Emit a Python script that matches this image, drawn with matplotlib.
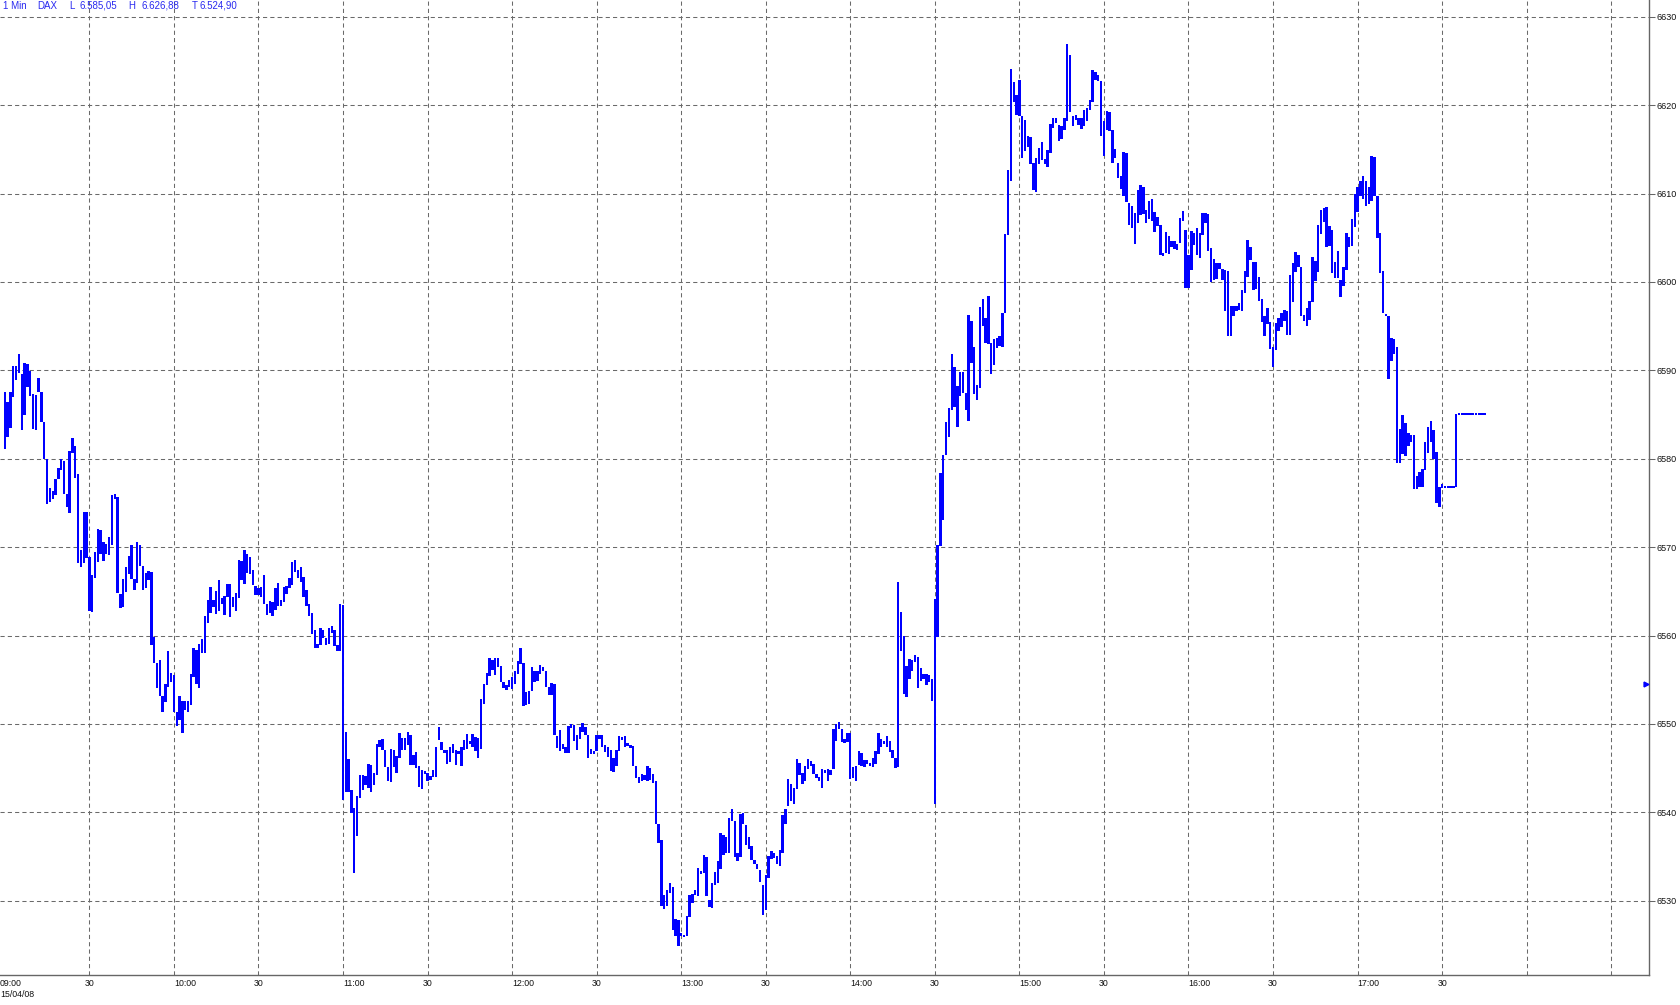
import numpy as np
import matplotlib
matplotlib.use("Agg")
from matplotlib import pyplot as plt

plt.rcParams['font.family'] = ['Liberation Sans', 'DejaVu Sans']

# DAX 1 minute bars, 15/04/08, one bar per minute from 09:00
bar_high = [
    6587.5, 6586.4, 6587.6, 6590.5, 6590.5, 6591.8, 6589.6, 6590.8, 6590.7, 6589.9,
    6587.3, 6587.2, 6589.1, 6587.6, 6584.2, 6580.0, 6576.7, 6576.4, 6577.7, 6578.9,
    6580.0, 6579.8, 6576.0, 6580.9, 6582.4, 6581.5, 6578.3, 6569.7, 6574.0, 6574.0,
    6568.9, 6566.8, 6569.4, 6572.1, 6571.9, 6570.6, 6570.4, 6571.2, 6575.9, 6576.0,
    6575.7, 6564.7, 6566.4, 6567.8, 6569.0, 6570.3, 6566.4, 6570.6, 6570.2, 6567.9,
    6567.1, 6567.3, 6567.2, 6559.8, 6556.9, 6557.2, 6553.2, 6554.5, 6558.2, 6555.8,
    6555.5, 6551.4, 6553.2, 6552.6, 6552.6, 6552.6, 6555.6, 6558.6, 6558.4, 6559.0,
    6559.6, 6562.2, 6564.0, 6565.5, 6564.0, 6565.0, 6566.3, 6564.3, 6564.5, 6565.8,
    6565.8, 6564.4, 6564.8, 6568.5, 6568.4, 6569.7, 6569.2, 6568.9, 6567.4, 6565.6,
    6565.4, 6565.5, 6566.8, 6563.6, 6563.9, 6563.8, 6565.4, 6565.9, 6564.0, 6565.5,
    6565.6, 6566.5, 6568.3, 6568.6, 6567.4, 6567.7, 6566.6, 6565.1, 6563.6, 6562.5,
    6560.6, 6559.1, 6560.8, 6560.6, 6559.7, 6560.8, 6561.1, 6560.6, 6558.9, 6563.6,
    6563.5, 6549.1, 6546.0, 6542.5, 6540.5, 6541.8, 6544.2, 6544.2, 6544.1, 6545.5,
    6545.4, 6544.4, 6547.7, 6548.2, 6548.3, 6547.1, 6545.1, 6547.2, 6547.1, 6546.4,
    6549.0, 6548.4, 6548.4, 6549.1, 6548.8, 6546.5, 6546.8, 6545.2, 6544.8, 6544.7,
    6544.4, 6544.1, 6544.8, 6547.4, 6549.6, 6548.0, 6547.1, 6547.0, 6547.4, 6547.7,
    6547.1, 6546.9, 6547.4, 6548.2, 6548.9, 6548.1, 6548.9, 6548.5, 6548.4, 6552.8,
    6554.5, 6555.8, 6557.5, 6557.2, 6557.5, 6557.5, 6556.6, 6554.7, 6554.4, 6555.0,
    6555.3, 6556.0, 6557.1, 6558.6, 6556.9, 6553.6, 6553.7, 6556.4, 6556.0, 6556.0,
    6556.7, 6556.5, 6556.0, 6554.2, 6554.6, 6554.5, 6548.6, 6549.3, 6547.7, 6547.4,
    6549.8, 6550.0, 6549.9, 6548.8, 6549.6, 6550.1, 6549.7, 6548.7, 6547.2, 6546.9,
    6548.7, 6548.7, 6548.8, 6547.6, 6547.4, 6547.0, 6546.2, 6547.1, 6548.6, 6548.5,
    6548.6, 6547.9, 6547.6, 6547.5, 6545.2, 6544.0, 6544.3, 6544.2, 6545.2, 6545.0,
    6544.3, 6543.6, 6538.7, 6536.9, 6530.7, 6531.2, 6532.0, 6531.5, 6527.9, 6527.8,
    6526.3, 6526.2, 6528.3, 6530.7, 6530.8, 6531.2, 6533.7, 6533.4, 6535.2, 6535.0,
    6530.1, 6532.0, 6533.3, 6534.5, 6537.7, 6537.4, 6537.2, 6539.4, 6540.4, 6539.0,
    6535.4, 6539.8, 6539.9, 6538.6, 6537.2, 6536.2, 6534.6, 6534.2, 6533.5, 6531.8,
    6532.9, 6535.1, 6535.6, 6535.4, 6535.1, 6535.7, 6539.7, 6540.4, 6543.8, 6543.2,
    6542.8, 6546.0, 6545.6, 6544.5, 6545.2, 6546.0, 6545.8, 6545.5, 6544.3, 6544.0,
    6544.9, 6544.8, 6544.9, 6544.8, 6549.4, 6550.0, 6550.2, 6549.4, 6548.3, 6549.0,
    6549.0, 6545.1, 6545.3, 6546.9, 6546.7, 6545.9, 6545.9, 6545.6, 6546.2, 6546.9,
    6549.0, 6548.3, 6548.1, 6548.6, 6548.1, 6547.1, 6546.1, 6566.1, 6562.7, 6560.0,
    6556.6, 6557.3, 6557.2, 6557.8, 6557.6, 6556.3, 6555.6, 6555.7, 6555.5, 6555.1,
    6564.1, 6570.2, 6578.4, 6580.4, 6584.2, 6585.7, 6591.8, 6590.4, 6588.2, 6589.8,
    6589.8, 6587.4, 6596.3, 6595.6, 6592.7, 6588.4, 6597.2, 6598.1, 6595.9, 6598.4,
    6593.1, 6593.6, 6593.7, 6593.9, 6596.5, 6605.4, 6612.7, 6624.1, 6622.6, 6621.2,
    6622.9, 6618.8, 6618.3, 6616.5, 6616.4, 6613.5, 6614.0, 6615.2, 6615.8, 6613.9,
    6614.9, 6617.9, 6618.6, 6618.6, 6617.8, 6617.7, 6618.5, 6626.88, 6625.7, 6618.8,
    6618.9, 6618.6, 6618.5, 6619.4, 6619.7, 6620.6, 6624.0, 6623.7, 6623.4, 6622.7,
    6618.2, 6619.3, 6619.2, 6617.2, 6615.1, 6613.5, 6612.0, 6614.7, 6614.6, 6608.9,
    6608.6, 6607.8, 6610.4, 6611.0, 6610.8, 6608.1, 6609.2, 6609.4, 6607.9, 6607.3,
    6606.5, 6603.3, 6605.7, 6605.2, 6604.6, 6604.6, 6604.3, 6607.2, 6608.0, 6605.9,
    6603.1, 6605.8, 6605.5, 6606.1, 6605.5, 6607.8, 6607.8, 6607.7, 6603.8, 6602.6,
    6602.2, 6602.1, 6601.5, 6601.4, 6601.2, 6597.3, 6597.3, 6597.3, 6597.6, 6599.1,
    6601.2, 6604.8, 6604.0, 6602.3, 6602.3, 6600.6, 6598.1, 6596.1, 6597.1, 6595.5,
    6592.6, 6595.4, 6595.9, 6596.5, 6596.8, 6596.7, 6600.8, 6602.1, 6603.4, 6603.0,
    6601.7, 6596.3, 6597.1, 6597.9, 6602.8, 6602.4, 6606.4, 6608.1, 6608.4, 6608.5,
    6606.3, 6605.9, 6602.3, 6603.5, 6600.2, 6601.7, 6605.5, 6605.1, 6607.1, 6610.0,
    6610.7, 6611.4, 6612.0, 6611.4, 6610.8, 6614.2, 6614.1, 6609.7, 6605.5, 6601.2,
    6596.5, 6596.2, 6593.7, 6593.5, 6592.7, 6583.4, 6584.9, 6584.1, 6582.9, 6582.7,
    6582.7, 6578.1, 6578.5, 6578.8, 6581.9, 6583.6, 6584.3, 6583.2, 6580.8, 6576.8,
    6577.2, 6576.8, 6576.8, 6576.8, 6576.8, 6585.05, 6585.05, 6585.05, 6585.05, 6585.05,
    6585.05, 6585.05, 6585.05, 6585.05, 6585.05, 6585.05,
]
bar_low = [
    6581.1, 6582.5, 6583.5, 6587.0, 6588.9, 6589.7, 6583.2, 6584.9, 6588.1, 6587.1,
    6583.4, 6583.2, 6587.6, 6584.2, 6580.0, 6574.9, 6575.1, 6575.5, 6575.9, 6577.7,
    6578.7, 6576.0, 6574.6, 6573.9, 6580.6, 6577.8, 6568.2, 6567.8, 6568.2, 6568.8,
    6562.8, 6562.7, 6566.5, 6568.3, 6569.2, 6568.4, 6569.2, 6569.1, 6570.3, 6575.4,
    6564.8, 6563.1, 6563.2, 6564.9, 6567.0, 6566.4, 6565.1, 6566.0, 6567.9, 6565.1,
    6565.4, 6566.3, 6558.9, 6556.9, 6554.1, 6553.2, 6551.3, 6552.5, 6554.2, 6554.8,
    6551.4, 6549.8, 6550.4, 6549.0, 6551.6, 6551.4, 6552.1, 6555.3, 6554.5, 6554.1,
    6558.0, 6558.0, 6561.4, 6562.6, 6563.2, 6562.4, 6562.8, 6563.6, 6562.3, 6564.4,
    6562.1, 6563.2, 6562.8, 6564.3, 6566.3, 6565.8, 6567.1, 6567.0, 6565.7, 6564.6,
    6564.6, 6564.4, 6563.6, 6562.3, 6562.6, 6562.2, 6562.9, 6563.4, 6563.4, 6563.8,
    6564.7, 6565.4, 6565.7, 6567.2, 6566.5, 6566.1, 6564.4, 6563.3, 6562.2, 6560.2,
    6558.6, 6558.6, 6558.9, 6559.7, 6558.9, 6559.1, 6560.3, 6558.8, 6558.3, 6558.2,
    6541.4, 6542.3, 6542.3, 6539.9, 6533.1, 6537.3, 6541.6, 6542.5, 6543.1, 6542.8,
    6542.3, 6543.1, 6544.2, 6547.4, 6547.1, 6545.1, 6543.5, 6543.4, 6545.1, 6544.5,
    6546.1, 6547.1, 6547.1, 6547.6, 6545.4, 6545.4, 6545.0, 6542.9, 6542.6, 6544.3,
    6543.6, 6543.7, 6544.0, 6544.0, 6548.2, 6547.1, 6546.7, 6545.5, 6545.7, 6546.7,
    6545.4, 6546.6, 6545.2, 6547.1, 6547.2, 6547.7, 6547.4, 6546.9, 6546.2, 6547.2,
    6552.3, 6554.4, 6555.4, 6556.1, 6555.5, 6556.5, 6554.7, 6554.1, 6553.8, 6554.2,
    6554.0, 6554.5, 6555.7, 6556.8, 6552.0, 6552.1, 6552.3, 6553.7, 6554.7, 6554.9,
    6555.7, 6556.0, 6554.2, 6553.3, 6553.3, 6548.7, 6547.3, 6546.9, 6547.2, 6546.7,
    6546.7, 6549.5, 6548.1, 6547.1, 6548.3, 6549.1, 6548.7, 6546.2, 6546.6, 6546.6,
    6546.9, 6548.3, 6547.4, 6546.8, 6546.3, 6544.7, 6544.6, 6545.2, 6546.9, 6548.2,
    6547.4, 6547.5, 6547.3, 6545.2, 6543.9, 6543.3, 6543.5, 6543.7, 6543.5, 6543.7,
    6543.3, 6538.7, 6536.5, 6529.4, 6529.1, 6529.4, 6530.9, 6526.7, 6526.0, 6524.9,
    6526.0, 6526.0, 6526.0, 6528.2, 6529.7, 6530.7, 6530.5, 6533.0, 6533.1, 6530.5,
    6529.3, 6529.2, 6531.8, 6532.0, 6533.6, 6535.2, 6535.4, 6535.4, 6539.0, 6535.0,
    6534.5, 6535.0, 6538.7, 6536.3, 6535.9, 6534.6, 6534.2, 6533.6, 6532.1, 6528.4,
    6529.0, 6532.6, 6534.7, 6534.8, 6534.2, 6533.9, 6535.4, 6538.7, 6540.7, 6541.3,
    6541.0, 6542.6, 6544.2, 6543.2, 6543.5, 6544.9, 6545.2, 6544.3, 6543.9, 6543.6,
    6542.7, 6544.5, 6543.5, 6544.2, 6544.9, 6548.1, 6549.4, 6548.0, 6547.9, 6548.0,
    6543.8, 6543.9, 6543.5, 6545.4, 6545.2, 6545.1, 6545.5, 6545.2, 6545.1, 6545.5,
    6546.6, 6547.4, 6547.7, 6547.4, 6546.8, 6546.1, 6545.0, 6545.1, 6558.2, 6553.4,
    6553.1, 6555.1, 6556.0, 6557.0, 6554.1, 6554.9, 6555.1, 6554.4, 6554.7, 6552.6,
    6541.0, 6559.8, 6570.1, 6573.1, 6580.4, 6582.5, 6585.5, 6585.9, 6583.6, 6587.1,
    6587.4, 6585.5, 6584.3, 6590.8, 6587.3, 6586.6, 6588.0, 6595.0, 6593.1, 6593.0,
    6589.6, 6590.6, 6592.5, 6592.8, 6592.7, 6596.5, 6605.3, 6611.4, 6620.4, 6618.9,
    6618.8, 6614.0, 6614.8, 6615.3, 6613.3, 6610.4, 6610.2, 6613.3, 6613.8, 6613.4,
    6613.0, 6614.6, 6617.4, 6618.0, 6616.0, 6616.2, 6617.2, 6618.2, 6619.2, 6617.7,
    6618.3, 6617.8, 6617.3, 6617.7, 6618.2, 6619.4, 6620.4, 6622.9, 6622.7, 6616.5,
    6614.2, 6617.2, 6617.1, 6613.5, 6614.0, 6611.8, 6610.5, 6609.7, 6609.0, 6606.5,
    6606.1, 6604.3, 6606.7, 6607.6, 6607.7, 6606.7, 6607.1, 6606.9, 6605.6, 6606.3,
    6603.1, 6602.9, 6603.3, 6603.2, 6604.0, 6603.7, 6603.6, 6604.4, 6606.9, 6599.3,
    6599.3, 6601.3, 6604.2, 6603.1, 6602.7, 6605.3, 6606.7, 6603.5, 6600.0, 6600.2,
    6600.3, 6601.5, 6600.2, 6596.7, 6593.9, 6593.9, 6596.1, 6596.7, 6596.8, 6596.7,
    6598.8, 6600.6, 6602.5, 6599.1, 6599.2, 6597.8, 6595.5, 6593.9, 6595.2, 6592.4,
    6590.4, 6592.3, 6594.5, 6594.9, 6595.6, 6594.0, 6594.0, 6597.7, 6601.1, 6601.7,
    6596.2, 6595.6, 6595.0, 6595.7, 6597.7, 6600.1, 6601.1, 6605.4, 6606.8, 6604.0,
    6604.1, 6601.0, 6600.4, 6600.4, 6598.3, 6599.6, 6601.3, 6604.0, 6604.1, 6606.2,
    6607.9, 6609.7, 6609.4, 6608.6, 6608.8, 6609.2, 6609.7, 6605.0, 6601.0, 6596.5,
    6596.3, 6589.0, 6591.1, 6591.8, 6579.5, 6579.5, 6580.5, 6580.3, 6581.4, 6581.9,
    6576.6, 6576.6, 6576.8, 6576.8, 6578.7, 6580.7, 6581.9, 6580.0, 6575.0, 6574.5,
    6576.7, 6576.8, 6576.8, 6576.8, 6576.8, 6576.8, 6585.05, 6585.05, 6585.05, 6585.05,
    6585.05, 6585.05, 6585.05, 6585.05, 6585.05, 6585.05,
]

price_levels = [6530, 6540, 6550, 6560, 6570, 6580, 6590, 6600, 6610, 6620, 6630]
time_ticks = [0, 30, 60, 90, 120, 150, 180, 210, 240, 270, 300, 330,
              360, 390, 420, 450, 480, 510]
time_labels = ["09:00\n15/04/08", "30", "10:00", "30", "11:00", "30", "12:00", "30",
               "13:00", "30", "14:00", "30", "15:00", "30", "16:00", "30", "17:00", "30"]
grid_times = [30 * i for i in range(1, 20)]
header = [("1 Min", 3), ("DAX", 37), ("L", 69), ("6.585,05", 80),
          ("H", 128), ("6.626,88", 141), ("T", 192), ("6.524,90", 200)]
prev_close = 6554.5

high = np.array(bar_high)
low = np.array(bar_low)
minutes = np.arange(len(high))
flat = high - low < 0.2
height = np.where(flat, 0.22, high - low)
bottom = np.where(flat, low - 0.11, low)

W, H = 1680, 1005
fig = plt.figure(figsize=(W / 100, H / 100), dpi=100)
ax = fig.add_axes([0, 30 / H, 1649 / W, 975 / H])

grid_col = "#6a6a6a"
for t in grid_times:
    ax.axvline(t, color=grid_col, lw=0.75, ls=(0, (4, 3)), zorder=0)
for p in price_levels:
    ax.axhline(p, color=grid_col, lw=0.75, ls=(0, (4, 3)), zorder=0)

ax.bar(minutes, height, bottom=bottom, width=0.85, color="#0000ff",
       linewidth=0, zorder=2)

# previous close marker on the price axis
ax.plot([582.3], [prev_close], marker=">", ms=3.5, color="#0000ff",
        clip_on=False, zorder=3)

ax.set_xlim(-1.7, 583.4)
ax.set_ylim(6521.6, 6631.9)

for side in ["top", "left"]:
    ax.spines[side].set_visible(False)
for side in ["right", "bottom"]:
    ax.spines[side].set_color("#666666")
    ax.spines[side].set_linewidth(1.0)

ax.yaxis.tick_right()
ax.set_yticks(price_levels)
ax.set_yticklabels([str(p) for p in price_levels])
ax.tick_params(axis="y", length=4, width=0.75, color="#666666", pad=1.5,
               labelsize=6.5, labelcolor="#111111")
ax.set_xticks([])

xtrans = ax.get_xaxis_transform()
for t, lab in zip(time_ticks, time_labels):
    if t == 0:
        ax.text(-1.7, -0.0045, lab, transform=xtrans, ha="left", va="top",
                fontsize=6.3, color="#111111", linespacing=1.3)
    elif lab == "30":
        ax.text(t, -0.0045, lab, transform=xtrans, ha="center", va="top",
                fontsize=6.3, color="#111111")
    else:
        ax.text(t, -0.0045, lab, transform=xtrans, ha="left", va="top",
                fontsize=6.3, color="#111111")

for txt, px in header:
    fig.text(px / W, 1 - 6 / H, txt, ha="left", va="center",
             fontsize=7, color="#2a2af0")

fig.savefig("out.png", dpi=100)
